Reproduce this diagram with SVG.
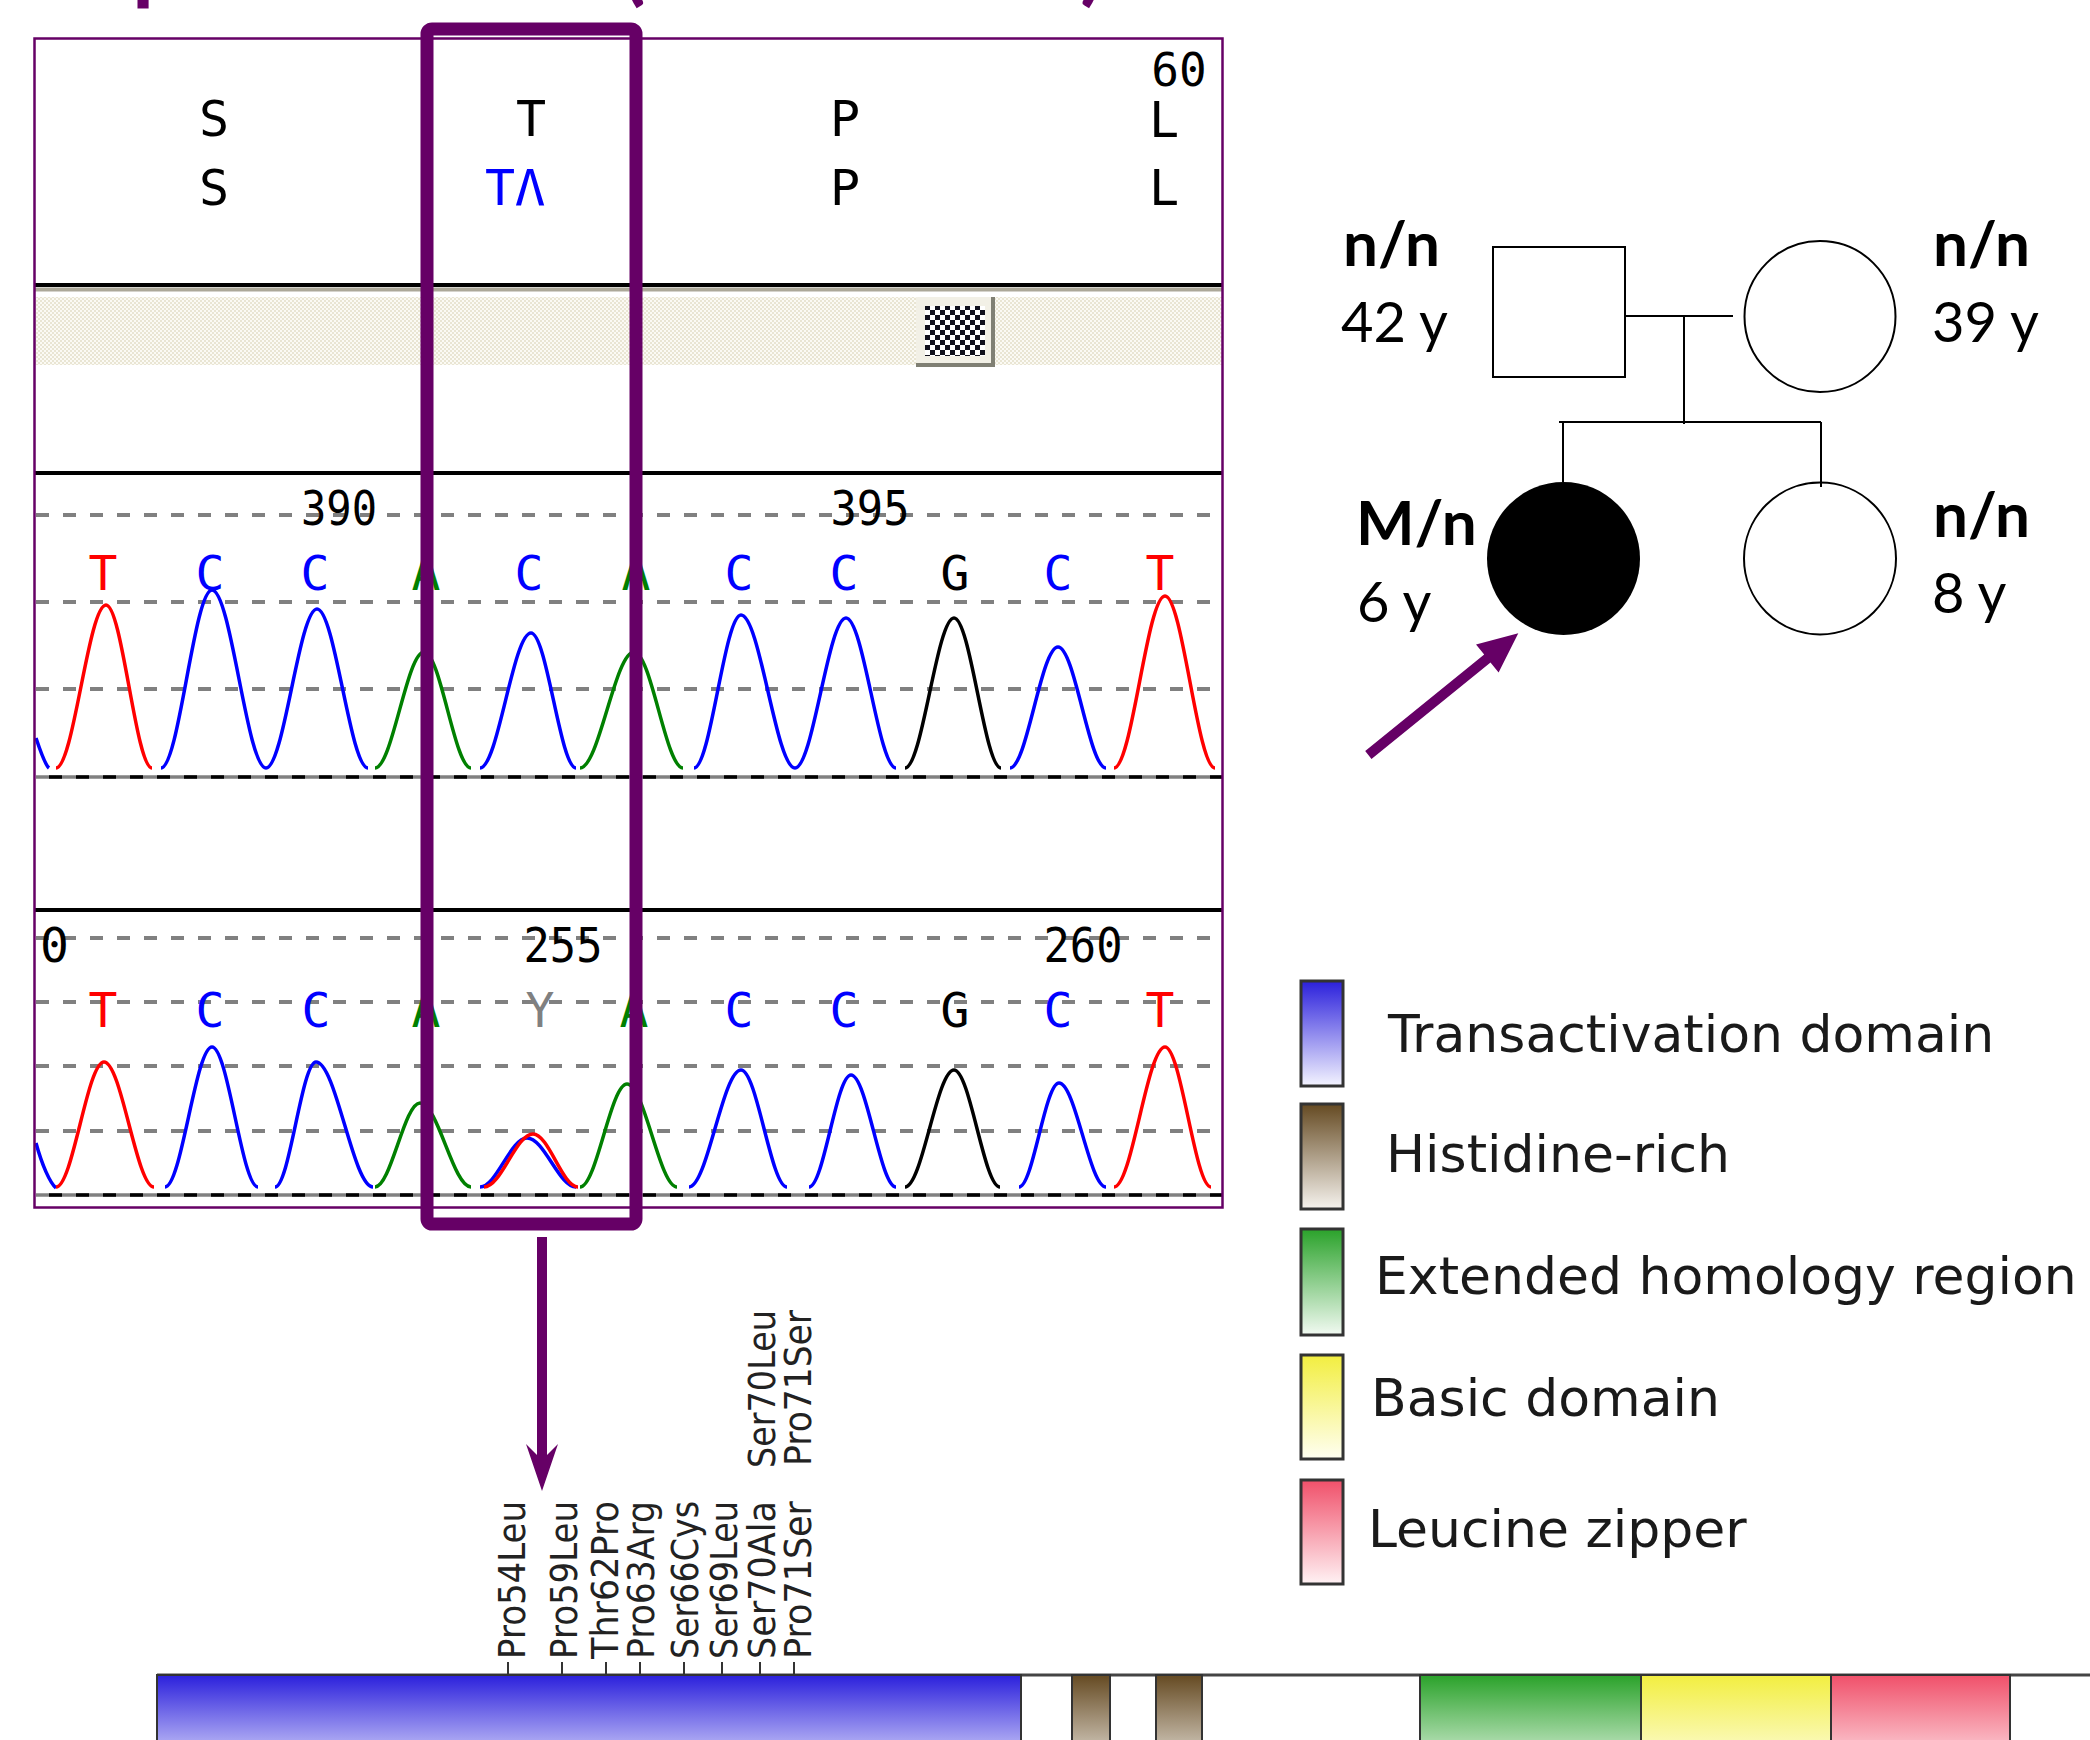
<svg xmlns="http://www.w3.org/2000/svg" width="2090" height="1740" viewBox="0 0 2090 1740">
<defs>
<style>
.mono{font-family:"DejaVu Sans Mono","Liberation Mono",monospace;font-size:48px;text-anchor:middle}
.hdr{font-family:"DejaVu Sans Mono","Liberation Mono",monospace;font-size:50px;text-anchor:middle;fill:#000}
.dash{stroke:#808080;stroke-width:4;stroke-dasharray:13 14;fill:none}
.base1{stroke:#808080;stroke-width:3.5}
.base2{stroke:#000;stroke-width:3.5;stroke-dasharray:13 14;stroke-dashoffset:-13}
.tr{fill:none;stroke-width:3.5;stroke-linejoin:round}
.r{stroke:#ff0000}.b{stroke:#0000ff}.g{stroke:#008000}.k{stroke:#000}
.sep{stroke:#000;stroke-width:4}
.ped{fill:none;stroke:#000;stroke-width:2}
.lb{font-family:Lato,"Open Sans",sans-serif;font-weight:bold;font-size:62px;fill:#000}
.lr{font-family:Lato,"Open Sans",sans-serif;font-size:56px;fill:#000}
.leg{font-family:"DejaVu Sans",sans-serif;font-size:52px;fill:#1a1a1a}
.sw{stroke:#333;stroke-width:3}
.mut{font-family:"DejaVu Sans",sans-serif;font-size:37px;fill:#222}
.tick{stroke:#333;stroke-width:2}
.seg{stroke:#333;stroke-width:2}
.purple{fill:#660066}
.title{font-family:Lato,sans-serif;font-weight:bold;font-size:90px;fill:#660066}
</style>
<pattern id="beige" width="4" height="4" patternUnits="userSpaceOnUse">
<rect width="4" height="4" fill="#fbfaf4"/>
<rect width="2" height="2" fill="#e9e5d3"/>
<rect x="2" y="2" width="2" height="2" fill="#e9e5d3"/>
</pattern>
<pattern id="checker" width="10" height="10" patternUnits="userSpaceOnUse">
<rect width="10" height="10" fill="#ffffff"/>
<rect width="5" height="5" fill="#10101c"/>
<rect x="5" y="5" width="5" height="5" fill="#10101c"/>
</pattern>
<linearGradient id="gBlue" x1="0" y1="0" x2="0" y2="1"><stop offset="0" stop-color="#2b20dc"/><stop offset="1" stop-color="#f4f4ff"/></linearGradient>
<linearGradient id="gBrown" x1="0" y1="0" x2="0" y2="1"><stop offset="0" stop-color="#654a22"/><stop offset="1" stop-color="#f6f3ee"/></linearGradient>
<linearGradient id="gGreen" x1="0" y1="0" x2="0" y2="1"><stop offset="0" stop-color="#2aa22a"/><stop offset="1" stop-color="#f2faf2"/></linearGradient>
<linearGradient id="gYellow" x1="0" y1="0" x2="0" y2="1"><stop offset="0" stop-color="#f2ee40"/><stop offset="1" stop-color="#fffff2"/></linearGradient>
<linearGradient id="gRed" x1="0" y1="0" x2="0" y2="1"><stop offset="0" stop-color="#f0506a"/><stop offset="1" stop-color="#fff2f4"/></linearGradient>
</defs>
<rect width="2090" height="1740" fill="#ffffff"/>

<g id="title-fragments">
<text class="title" x="132" y="-7">p</text>
<text class="title" x="621" y="-6">(</text>
<text class="title" x="1080" y="-6">)</text>
</g>

<g id="chromatogram">
<rect x="34.5" y="38.5" width="1188" height="1169" fill="#ffffff"/>
<text class="hdr" x="1179" y="86" style="font-size:46px">60</text>
<text class="hdr" x="214" y="136">S</text>
<text class="hdr" x="531" y="136">T</text>
<text class="hdr" x="845" y="136">P</text>
<text class="hdr" x="1164" y="137">L</text>
<text class="hdr" x="214" y="205">S</text>
<text class="hdr" x="515" y="205" style="fill:#0000ff">TΛ</text>
<text class="hdr" x="845" y="205">P</text>
<text class="hdr" x="1164" y="205">L</text>
<line class="sep" x1="35" y1="285" x2="1222" y2="285"/>
<line x1="35" y1="289.5" x2="1222" y2="289.5" stroke="#aca899" stroke-width="4"/>
<rect x="35" y="297" width="1187" height="68" fill="url(#beige)"/>
<g id="scroll-thumb">
<rect x="916" y="297" width="77" height="68" fill="#f2f0e6"/>
<path d="M916,365 H993 V297" fill="none" stroke="#808074" stroke-width="4"/>
<rect x="925" y="306" width="60" height="50" fill="url(#checker)"/>
</g>
<line class="sep" x1="35" y1="473" x2="1222" y2="473"/>

<line class="dash" x1="36" y1="515" x2="1222" y2="515"/>
<line class="dash" x1="36" y1="602" x2="1222" y2="602"/>
<line class="dash" x1="36" y1="689" x2="1222" y2="689"/>
<line class="base1" x1="36" y1="777" x2="1222" y2="777"/>
<line class="base2" x1="36" y1="777" x2="1222" y2="777"/>
<text class="mono" x="339" y="525" textLength="76" lengthAdjust="spacingAndGlyphs">390</text>
<text class="mono" x="870" y="525" textLength="79" lengthAdjust="spacingAndGlyphs">395</text>
<g class="mono">
<text x="103" y="590" fill="#ff0000">T</text>
<text x="210" y="590" fill="#0000ff">C</text>
<text x="315" y="590" fill="#0000ff">C</text>
<text x="426" y="590" fill="#008000">A</text>
<text x="529" y="590" fill="#0000ff">C</text>
<text x="636" y="590" fill="#008000">A</text>
<text x="739" y="590" fill="#0000ff">C</text>
<text x="844" y="590" fill="#0000ff">C</text>
<text x="955" y="590" fill="#000000">G</text>
<text x="1058" y="590" fill="#0000ff">C</text>
<text x="1160" y="590" fill="#ff0000">T</text>
</g>
<path class="tr b" d="M36,738 C40,750 45,765 49,768"/>
<path class="tr r" d="M56,768 C73.5,768 88.5,605 106,605 C122.1,605 135.9,768 152,768"/>
<path class="tr b" d="M161,768 C178.9,768 194.2,590 212,590 C230.9,590 247.1,768 266,768"/>
<path class="tr b" d="M266,768 C283.9,768 299.2,609 317,609 C334.9,609 350.2,768 368,768"/>
<path class="tr g" d="M375,768 C392.2,768 406.9,652 424,652 C440.5,652 454.6,768 471,768"/>
<path class="tr b" d="M480,768 C497.9,768 513.2,633 531,633 C546.8,633 560.3,768 576,768"/>
<path class="tr g" d="M580,768 C598.9,768 615.1,652 634,652 C651.2,652 665.9,768 683,768"/>
<path class="tr b" d="M694,768 C710.5,768 724.6,615 741,615 C759.9,615 776.1,768 795,768"/>
<path class="tr b" d="M795,768 C812.9,768 828.2,618 846,618 C863.5,618 878.5,768 896,768"/>
<path class="tr k" d="M905,768 C922.2,768 936.9,618 954,618 C970.5,618 984.6,768 1001,768"/>
<path class="tr b" d="M1010,768 C1026.8,768 1041.2,647 1058,647 C1074.8,647 1089.2,768 1106,768"/>
<path class="tr r" d="M1114,768 C1131.9,768 1147.2,596 1165,596 C1182.5,596 1197.5,768 1215,768"/>

<line class="sep" x1="35" y1="910" x2="1222" y2="910"/>
<line class="dash" x1="36" y1="938" x2="1222" y2="938"/>
<line class="dash" x1="36" y1="1002" x2="1222" y2="1002"/>
<line class="dash" x1="36" y1="1066" x2="1222" y2="1066"/>
<line class="dash" x1="36" y1="1131" x2="1222" y2="1131"/>
<line class="base1" x1="36" y1="1195" x2="1222" y2="1195"/>
<line class="base2" x1="36" y1="1195" x2="1222" y2="1195"/>
<text class="mono" x="40" y="962" style="text-anchor:start">0</text>
<text class="mono" x="563" y="962" textLength="79" lengthAdjust="spacingAndGlyphs">255</text>
<text class="mono" x="1083" y="962" textLength="79" lengthAdjust="spacingAndGlyphs">260</text>
<g class="mono">
<text x="103" y="1027" fill="#ff0000">T</text>
<text x="210" y="1027" fill="#0000ff">C</text>
<text x="316" y="1027" fill="#0000ff">C</text>
<text x="426" y="1027" fill="#008000">A</text>
<text x="540" y="1027" fill="#808080">Y</text>
<text x="634" y="1027" fill="#008000">A</text>
<text x="739" y="1027" fill="#0000ff">C</text>
<text x="844" y="1027" fill="#0000ff">C</text>
<text x="955" y="1027" fill="#000000">G</text>
<text x="1058" y="1027" fill="#0000ff">C</text>
<text x="1160" y="1027" fill="#ff0000">T</text>
</g>
<path class="tr b" d="M36,1143 C42,1165 50,1183 56,1188"/>
<path class="tr r" d="M56,1187 C72.8,1187 87.2,1062 104,1062 C121.5,1062 136.5,1187 154,1187"/>
<path class="tr b" d="M165,1187 C181.5,1187 195.6,1047 212,1047 C228.1,1047 241.9,1187 258,1187"/>
<path class="tr b" d="M275,1187 C289.4,1187 301.7,1062 316,1062 C336,1062 353.1,1187 373,1187"/>
<path class="tr g" d="M375,1187 C390.8,1187 404.3,1103 420,1103 C437.9,1103 453.2,1187 471,1187"/>
<path class="tr b" d="M480,1187 C496.5,1187 510.6,1138 527,1138 C544.2,1138 558.9,1187 576,1187"/>
<path class="tr r" d="M484,1187 C501.2,1187 515.9,1134 533,1134 C548.8,1134 562.3,1187 578,1187"/>
<path class="tr g" d="M580,1187 C596.5,1187 610.6,1084 627,1084 C644.5,1084 659.5,1187 677,1187"/>
<path class="tr b" d="M689,1187 C707.2,1187 722.8,1070 741,1070 C757.1,1070 770.9,1187 787,1187"/>
<path class="tr b" d="M809,1187 C823.7,1187 836.3,1075 851,1075 C866.8,1075 880.3,1187 896,1187"/>
<path class="tr k" d="M905,1187 C922.2,1187 936.9,1070 954,1070 C970.1,1070 983.9,1187 1000,1187"/>
<path class="tr b" d="M1019,1187 C1033,1187 1045,1083 1059,1083 C1075.5,1083 1089.6,1187 1106,1187"/>
<path class="tr r" d="M1114,1187 C1131.9,1187 1147.2,1047 1165,1047 C1181.1,1047 1194.9,1187 1211,1187"/>

<rect x="34.5" y="38.5" width="1188" height="1169" fill="none" stroke="#660066" stroke-width="2.5"/>
<rect id="highlight-box" x="427" y="29" width="209" height="1195" rx="5" fill="none" stroke="#660066" stroke-width="13"/>
</g>

<g id="connectors">
<line x1="542" y1="1237" x2="542" y2="1466" stroke="#660066" stroke-width="10"/>
<polygon class="purple" points="542,1491 526,1444 542,1460 558,1444"/>
<polygon class="purple" points="1365.2,751.1 1484.2,654.6 1476,644.5 1518.3,633.3 1498.6,672.5 1490.5,662.4 1371.5,758.9"/>
<polyline class="ped" points="1625,316 1733,316"/>
<polyline class="ped" points="1684,316 1684,424"/>
<polyline class="ped" points="1559,422 1821,422"/>
<polyline class="ped" points="1563,422 1563,482"/>
<polyline class="ped" points="1821,422 1821,487"/>
</g>

<g id="father">
<rect class="ped" x="1493" y="247" width="132" height="130"/>
<text class="lb" x="1343" y="266">n/n</text>
<text class="lr" x="1341" y="342">42 y</text>
</g>
<g id="mother">
<circle class="ped" cx="1820" cy="316.5" r="75.5"/>
<text class="lb" x="1933" y="266">n/n</text>
<text class="lr" x="1932" y="342">39 y</text>
</g>
<g id="proband">
<circle cx="1563.5" cy="558.5" r="76.5" fill="#000"/>
<text class="lb" x="1356" y="545">M/n</text>
<text class="lr" x="1357" y="622">6 y</text>
</g>
<g id="sister">
<circle class="ped" cx="1820" cy="558.5" r="76"/>
<text class="lb" x="1933" y="537">n/n</text>
<text class="lr" x="1932" y="613">8 y</text>
</g>

<g id="legend">
<rect class="sw" x="1301" y="981" width="42" height="105" fill="url(#gBlue)"/>
<rect class="sw" x="1301" y="1104" width="42" height="105" fill="url(#gBrown)"/>
<rect class="sw" x="1301" y="1229" width="42" height="106" fill="url(#gGreen)"/>
<rect class="sw" x="1301" y="1355" width="42" height="104" fill="url(#gYellow)"/>
<rect class="sw" x="1301" y="1480" width="42" height="104" fill="url(#gRed)"/>
<text class="leg" x="1388" y="1052">Transactivation domain</text>
<text class="leg" x="1386" y="1172">Histidine-rich</text>
<text class="leg" x="1375" y="1294">Extended homology region</text>
<text class="leg" x="1371" y="1416">Basic domain</text>
<text class="leg" x="1368" y="1547">Leucine zipper</text>
</g>

<g id="protein-map">
<line x1="157" y1="1675" x2="2090" y2="1675" stroke="#444" stroke-width="3"/>
<rect class="seg" x="157" y="1675" width="864" height="105" fill="url(#gBlue)"/>
<rect class="seg" x="1072" y="1675" width="38" height="105" fill="url(#gBrown)"/>
<rect class="seg" x="1156" y="1675" width="46" height="105" fill="url(#gBrown)"/>
<rect class="seg" x="1420" y="1675" width="221" height="105" fill="url(#gGreen)"/>
<rect class="seg" x="1641" y="1675" width="190" height="105" fill="url(#gYellow)"/>
<rect class="seg" x="1831" y="1675" width="179" height="105" fill="url(#gRed)"/>
<g id="ticks">
<line class="tick" x1="508" y1="1662" x2="508" y2="1675"/>
<line class="tick" x1="562" y1="1662" x2="562" y2="1675"/>
<line class="tick" x1="606" y1="1662" x2="606" y2="1675"/>
<line class="tick" x1="640" y1="1662" x2="640" y2="1675"/>
<line class="tick" x1="684" y1="1662" x2="684" y2="1675"/>
<line class="tick" x1="722" y1="1662" x2="722" y2="1675"/>
<line class="tick" x1="760" y1="1662" x2="760" y2="1675"/>
<line class="tick" x1="794" y1="1662" x2="794" y2="1675"/>
</g>
<text class="mut" transform="translate(525,1659) rotate(-90)" textLength="158" lengthAdjust="spacingAndGlyphs">Pro54Leu</text>
<text class="mut" transform="translate(577,1659) rotate(-90)" textLength="158" lengthAdjust="spacingAndGlyphs">Pro59Leu</text>
<text class="mut" transform="translate(618,1659) rotate(-90)" textLength="158" lengthAdjust="spacingAndGlyphs">Thr62Pro</text>
<text class="mut" transform="translate(654,1659) rotate(-90)" textLength="158" lengthAdjust="spacingAndGlyphs">Pro63Arg</text>
<text class="mut" transform="translate(698,1659) rotate(-90)" textLength="158" lengthAdjust="spacingAndGlyphs">Ser66Cys</text>
<text class="mut" transform="translate(737,1659) rotate(-90)" textLength="158" lengthAdjust="spacingAndGlyphs">Ser69Leu</text>
<text class="mut" transform="translate(775,1659) rotate(-90)" textLength="158" lengthAdjust="spacingAndGlyphs">Ser70Ala</text>
<text class="mut" transform="translate(811,1659) rotate(-90)" textLength="158" lengthAdjust="spacingAndGlyphs">Pro71Ser</text>
<text class="mut" transform="translate(775,1468) rotate(-90)" textLength="158" lengthAdjust="spacingAndGlyphs">Ser70Leu</text>
<text class="mut" transform="translate(811,1466) rotate(-90)" textLength="156" lengthAdjust="spacingAndGlyphs">Pro71Ser</text>
</g>
</svg>
